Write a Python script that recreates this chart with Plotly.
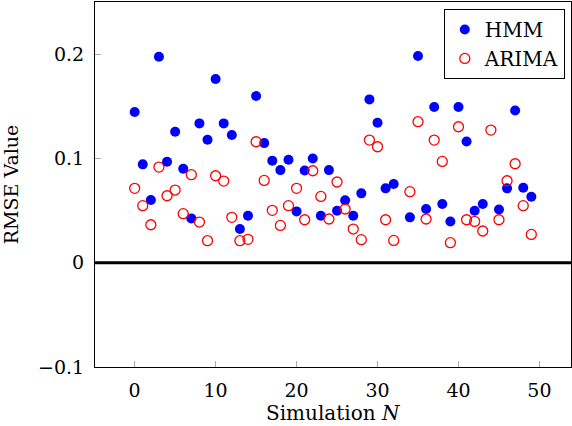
import plotly.graph_objects as go

N = list(range(50))
hmm = [0.1445, 0.0943, 0.0601, 0.1975, 0.0968, 0.1256, 0.0901, 0.0425, 0.1336, 0.1179,
       0.1761, 0.1336, 0.1224, 0.0323, 0.0451, 0.1598, 0.1147, 0.0978, 0.0888, 0.0987,
       0.0492, 0.0885, 0.1000, 0.0451, 0.0888, 0.0499, 0.0598, 0.0451, 0.0665, 0.1566,
       0.1342, 0.0713, 0.0754, None, 0.0435, 0.1982, 0.0515, 0.1493, 0.0563, 0.0396,
       0.1493, 0.1163, 0.0499, 0.0563, None, 0.0511, 0.0713, 0.1460, 0.0719, 0.0633]
arima = [0.0713, 0.0547, 0.0364, 0.0917, 0.0642, 0.0697, 0.0470, 0.0844, 0.0390, 0.0211,
         0.0834, 0.0783, 0.0435, 0.0211, 0.0224, 0.1160, 0.0789, 0.0502, 0.0358, 0.0547,
         0.0713, 0.0412, 0.0882, 0.0636, 0.0419, 0.0774, 0.0515, 0.0323, 0.0221, 0.1176,
         0.1112, 0.0412, 0.0214, None, 0.0681, 0.1352, 0.0419, 0.1176, 0.0971, 0.0192,
         0.1304, 0.0412, 0.0396, 0.0304, 0.1272, 0.0412, 0.0786, 0.0949, 0.0547, 0.0271]

x_ticks = [0, 10, 20, 30, 40, 50]
y_ticks = [-0.1, 0, 0.1, 0.2]
y_tick_text = ["\u22120.1", "0", "0.1", "0.2"]
x_title = "Simulation <i>N</i>"
y_title = "RMSE Value"

FONT = "DejaVu Serif"

fig = go.Figure()
fig.add_trace(go.Scatter(x=N, y=hmm, mode="markers", name="HMM",
                         marker=dict(symbol="circle", size=10, color="#0000ff",
                                     line=dict(width=0))))
fig.add_trace(go.Scatter(x=N, y=arima, mode="markers", name="ARIMA",
                         marker=dict(symbol="circle-open", size=10, color="#ff0000",
                                     line=dict(width=1.3))))

fig.add_shape(type="line", xref="paper", yref="y", x0=0, x1=1, y0=0, y1=0,
              line=dict(color="black", width=3))

fig.add_annotation(text=x_title, xref="paper", yref="paper", x=0.5, y=0,
                   xanchor="center", yanchor="middle", yshift=-46, showarrow=False,
                   font=dict(family=FONT, size=20, color="black"))

fig.update_layout(
    width=572, height=426,
    margin=dict(l=95, r=1, t=2, b=59),
    paper_bgcolor="white", plot_bgcolor="white",
    font=dict(family=FONT, size=19, color="black"),
    showlegend=True,
    legend=dict(x=0.987, y=0.981, xanchor="right", yanchor="top",
                bordercolor="black", borderwidth=1, bgcolor="white",
                font=dict(family=FONT, size=20), itemwidth=30,
                tracegroupgap=0),
    xaxis=dict(range=[-4.9, 53.9], tickvals=x_ticks, ticks="inside", ticklen=6,
               tickcolor="#aaaaaa", showgrid=False, zeroline=False,
               showline=True, linecolor="black", linewidth=1, mirror=True,
               ticklabelstandoff=6, automargin=False),
    yaxis=dict(range=[-0.1, 0.25], tickvals=y_ticks, ticktext=y_tick_text,
               ticks="inside", ticklen=6, tickcolor="#aaaaaa", showgrid=False,
               zeroline=False, showline=True, linecolor="black", linewidth=1,
               mirror=True, ticklabelstandoff=6,
               title=dict(text=y_title, font=dict(size=19), standoff=18)),
)

fig.write_html("out.html", config={"displayModeBar": False},
               post_script="document.body.style.margin='0px';")
